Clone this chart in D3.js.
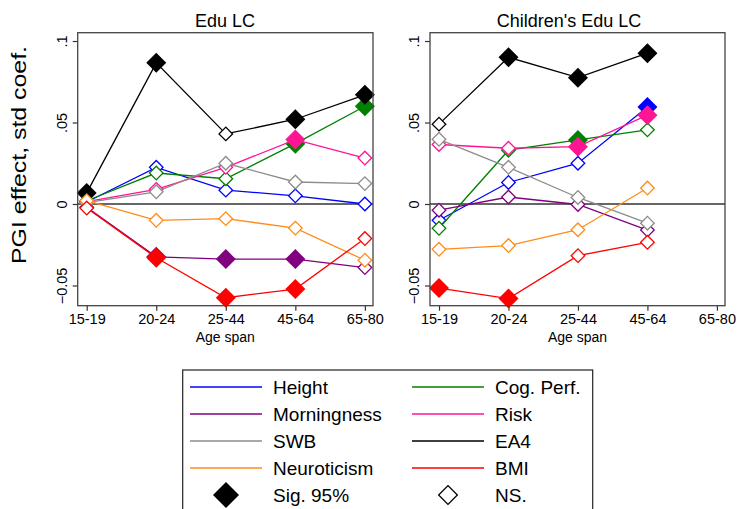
<!DOCTYPE html>
<html>
<head>
<meta charset="utf-8">
<script src="https://cdn.jsdelivr.net/npm/d3@7"></script>
<style>
  body { margin: 0; background: #fff; }
  svg text { font-family: Arial, "Liberation Sans", sans-serif; fill: #000; }
</style>
</head>
<body>
<svg id="chart" width="737" height="509"></svg>
<script>
// age spans on the x axis
var ageSpans = ['15-19', '20-24', '25-44', '45-64', '65-80'];
var yTicks = [-0.05, 0, 0.05, 0.1];

var seriesNames = ['Height', 'Cog. Perf.', 'Morningness', 'Risk', 'SWB', 'EA4', 'Neuroticism', 'BMI'];
var seriesColors = ['#0000ff', '#008000', '#800080', '#ff1493', '#8c8c8c', '#000000', '#ff8c1a', '#ff0000'];

// Edu LC panel: estimates and significance (1 = sig. 95%)
var eduHeight = [0.0012, 0.0225, 0.0085, 0.0050, 0.0000];
var eduHeightSig = [0, 0, 0, 0, 0];
var eduCog = [0.0020, 0.0190, 0.0155, 0.0370, 0.0600];
var eduCogSig = [0, 0, 0, 1, 1];
var eduMorning = [-0.0020, -0.0324, -0.0338, -0.0338, -0.0390];
var eduMorningSig = [0, 1, 1, 1, 0];
var eduRisk = [0.0015, 0.0090, 0.0225, 0.0395, 0.0282];
var eduRiskSig = [0, 0, 0, 1, 0];
var eduSwb = [0.0008, 0.0075, 0.0250, 0.0135, 0.0125];
var eduSwbSig = [0, 0, 0, 0, 0];
var eduEa4 = [0.0068, 0.0866, 0.0430, 0.0520, 0.0670];
var eduEa4Sig = [1, 1, 0, 1, 1];
var eduNeuro = [0.0020, -0.0100, -0.0090, -0.0148, -0.0345];
var eduNeuroSig = [0, 0, 0, 0, 0];
var eduBmi = [-0.0025, -0.0330, -0.0575, -0.0522, -0.0212];
var eduBmiSig = [0, 1, 1, 1, 0];

// Children's Edu LC panel (no 65-80 estimates)
var kidHeight = [-0.0100, 0.0132, 0.0250, 0.0595];
var kidHeightSig = [0, 0, 0, 1];
var kidCog = [-0.0149, 0.0330, 0.0393, 0.0455];
var kidCogSig = [0, 0, 1, 0];
var kidMorning = [-0.0038, 0.0043, -0.0003, -0.0160];
var kidMorningSig = [0, 0, 0, 0];
var kidRisk = [0.0365, 0.0342, 0.0352, 0.0545];
var kidRiskSig = [0, 0, 1, 1];
var kidSwb = [0.0397, 0.0225, 0.0040, -0.0118];
var kidSwbSig = [0, 0, 0, 0];
var kidEa4 = [0.0490, 0.0900, 0.0775, 0.0925];
var kidEa4Sig = [0, 1, 1, 1];
var kidNeuro = [-0.0278, -0.0255, -0.0158, 0.0098];
var kidNeuroSig = [0, 0, 0, 0];
var kidBmi = [-0.0516, -0.0580, -0.0317, -0.0235];
var kidBmiSig = [1, 1, 0, 0];

var panels = [
  {
    title: 'Edu LC', titleX: 225, left: 77.7, right: 373,
    values: [eduHeight, eduCog, eduMorning, eduRisk, eduSwb, eduEa4, eduNeuro, eduBmi],
    sig: [eduHeightSig, eduCogSig, eduMorningSig, eduRiskSig, eduSwbSig, eduEa4Sig, eduNeuroSig, eduBmiSig]
  },
  {
    title: "Children's Edu LC", titleX: 569, left: 430, right: 725,
    values: [kidHeight, kidCog, kidMorning, kidRisk, kidSwb, kidEa4, kidNeuro, kidBmi],
    sig: [kidHeightSig, kidCogSig, kidMorningSig, kidRiskSig, kidSwbSig, kidEa4Sig, kidNeuroSig, kidBmiSig]
  }
];

var svg = d3.select('#chart');
var plotTop = 32.7, plotBottom = 305.7;

var y = d3.scaleLinear().domain([-0.0624, 0.1051]).range([plotBottom, plotTop]);

var diamond = function(area) {
  return d3.symbol().type(d3.symbolSquare).size(area)();
};

svg.append('text')
  .attr('transform', 'translate(18,155) rotate(-90)')
  .attr('text-anchor', 'middle')
  .attr('dominant-baseline', 'central')
  .style('font-size', '21px')
  .attr('textLength', 218)
  .attr('lengthAdjust', 'spacingAndGlyphs')
  .text('PGI effect, std coef.');

panels.forEach(function(p) {
  var pad = (p.right - p.left) * 0.0305;
  var x = d3.scaleLinear().domain([0, 4]).range([p.left + pad, p.right - pad * 0.9]);
  var g = svg.append('g');

  g.append('text')
    .attr('x', p.titleX).attr('y', 21)
    .attr('text-anchor', 'middle')
    .attr('dominant-baseline', 'central')
    .style('font-size', '18px')
    .text(p.title);

  // x axis
  var xAxis = g.append('g')
    .attr('transform', 'translate(0,' + plotBottom + ')')
    .call(d3.axisBottom(x).tickValues(d3.range(ageSpans.length))
      .tickFormat(function(i) { return ageSpans[i]; }).tickSize(5).tickPadding(3));
  xAxis.select('.domain').remove();
  xAxis.selectAll('line').attr('stroke', '#333').attr('stroke-width', 1.2);
  xAxis.selectAll('text').style('font-size', '14.5px').attr('fill', '#000')
    .style('font-family', 'Arial, "Liberation Sans", sans-serif');

  g.append('text')
    .attr('x', (p.left + p.right) / 2).attr('y', 337)
    .attr('text-anchor', 'middle')
    .attr('dominant-baseline', 'central')
    .style('font-size', '14px')
    .text('Age span');

  // y axis
  var yAxis = g.append('g')
    .attr('transform', 'translate(' + p.left + ',0)')
    .call(d3.axisLeft(y).tickValues(yTicks).tickSize(5)
      .tickFormat(function(d) { return d3.format('.2~f')(d).replace(/^(-?)0\./, '$1.'); }));
  yAxis.select('.domain').remove();
  yAxis.selectAll('line').attr('stroke', '#333').attr('stroke-width', 1.2);
  yAxis.selectAll('text')
    .attr('x', null).attr('dy', null)
    .attr('text-anchor', 'middle')
    .attr('dominant-baseline', 'central')
    .attr('transform', 'translate(-16,0) rotate(-90)')
    .style('font-size', '14.5px').attr('fill', '#000')
    .style('font-family', 'Arial, "Liberation Sans", sans-serif');

  // zero line
  g.append('line')
    .attr('x1', p.left).attr('x2', p.right)
    .attr('y1', y(0)).attr('y2', y(0))
    .attr('stroke', '#333').attr('stroke-width', 1.5);

  var line = d3.line()
    .x(function(d, i) { return x(i); })
    .y(function(d) { return y(d); });

  p.values.forEach(function(vals, s) {
    var col = seriesColors[s];
    g.append('path')
      .attr('d', line(vals))
      .attr('fill', 'none')
      .attr('stroke', col)
      .attr('stroke-width', 1.3);
    g.selectAll(null)
      .data(vals)
      .enter().append('path')
      .attr('d', function(d, i) { return p.sig[s][i] ? diamond(200) : diamond(92); })
      .attr('transform', function(d, i) { return 'translate(' + x(i) + ',' + y(d) + ') rotate(45)'; })
      .attr('fill', function(d, i) { return p.sig[s][i] ? col : '#fff'; })
      .attr('stroke', col)
      .attr('stroke-width', function(d, i) { return p.sig[s][i] ? 0 : 1.3; });
  });

  // frame
  g.append('rect')
    .attr('x', p.left).attr('y', plotTop)
    .attr('width', p.right - p.left).attr('height', plotBottom - plotTop)
    .attr('fill', 'none').attr('stroke', '#444').attr('stroke-width', 1.3);
});

// legend
var legend = svg.append('g');
legend.append('rect')
  .attr('x', 182.7).attr('y', 370)
  .attr('width', 410).attr('height', 160)
  .attr('fill', '#fff').attr('stroke', '#222').attr('stroke-width', 1.2);

var colX = [190, 412];
var rowY = d3.range(5).map(function(r) { return 387 + r * 27; });

seriesNames.forEach(function(name, k) {
  var cx = colX[k % 2], cy = rowY[Math.floor(k / 2)];
  legend.append('line')
    .attr('x1', cx).attr('x2', cx + 72)
    .attr('y1', cy).attr('y2', cy)
    .attr('stroke', seriesColors[k]).attr('stroke-width', 1.6);
  legend.append('text')
    .attr('x', cx + 83).attr('y', cy)
    .attr('dominant-baseline', 'central')
    .style('font-size', '19px')
    .text(name);
});

legend.append('path')
  .attr('d', diamond(338))
  .attr('transform', 'translate(' + (colX[0] + 36) + ',' + rowY[4] + ') rotate(45)')
  .attr('fill', '#000');
legend.append('text')
  .attr('x', colX[0] + 83).attr('y', rowY[4])
  .attr('dominant-baseline', 'central')
  .style('font-size', '19px')
  .text('Sig. 95%');
legend.append('path')
  .attr('d', diamond(175))
  .attr('transform', 'translate(' + (colX[1] + 36) + ',' + rowY[4] + ') rotate(45)')
  .attr('fill', '#fff').attr('stroke', '#000').attr('stroke-width', 1.3);
legend.append('text')
  .attr('x', colX[1] + 83).attr('y', rowY[4])
  .attr('dominant-baseline', 'central')
  .style('font-size', '19px')
  .text('NS.');
</script>
</body>
</html>
